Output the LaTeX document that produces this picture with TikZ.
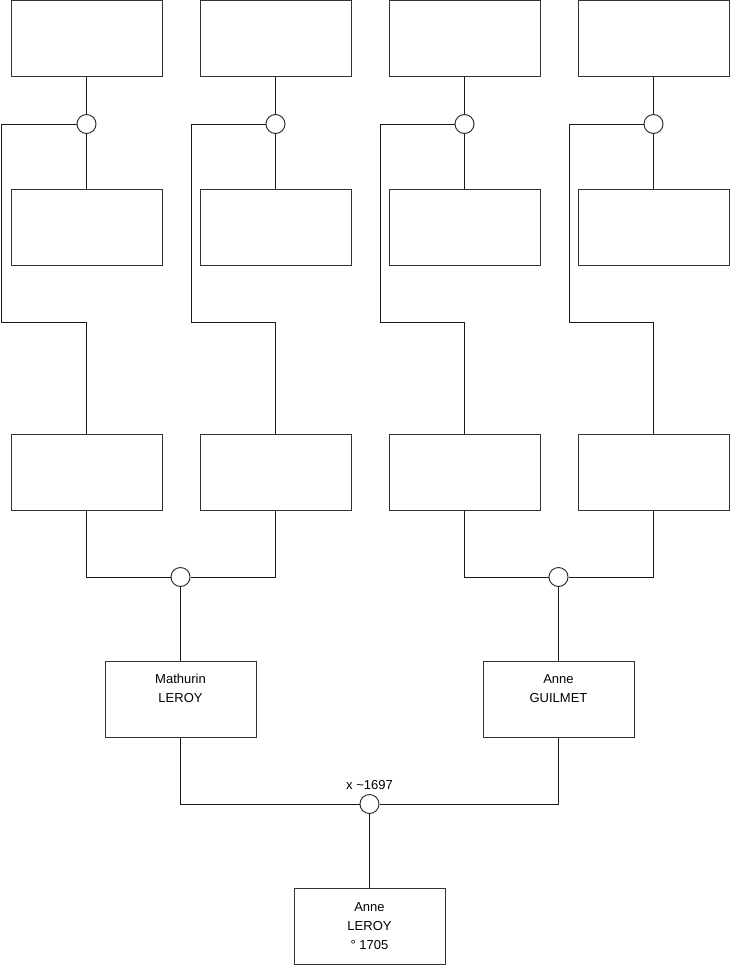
\documentclass[tikz,border=0pt]{standalone}
\usepackage{fontspec}
\setmainfont{Liberation Sans}
\begin{document}
\begin{tikzpicture}[x=1pt,y=-1pt,
  box/.style={draw=black!80, line width=1pt, minimum width=151pt, minimum height=76pt, inner sep=0pt, fill=white},
  knot/.style={circle, draw=black!80, line width=1pt, minimum size=19pt, inner sep=0pt, fill=white},
  link/.style={draw=black!90, line width=1pt},
  txt/.style={font=\fontsize{13}{19}\selectfont, align=center, inner sep=0pt, anchor=base}]
\useasboundingbox[fill=white] (0,0) rectangle (740,975);
% upper generations
\foreach \i/\x/\xl in {1/86.5/1, 2/275.5/191, 3/464.5/380, 4/653.5/569}{
  \node[box] (a\i) at (\x,38) {};
  \node[box] (b\i) at (\x,227) {};
  \node[box] (c\i) at (\x,472.5) {};
  \node[knot] (k\i) at (\x,124) {};
  \coordinate (e\i) at (\xl,322);
  \draw[link] (a\i.south) -- (k\i.north);
  \draw[link] (k\i.south) -- (b\i.north);
  \draw[link] (k\i.west) -| (e\i) -| (c\i.north);
}
% parents
\node[box] (p1) at (180.5,699.5) {};
\node[box] (p2) at (558.5,699.5) {};
\node[knot] (k5) at (180.5,577) {};
\node[knot] (k6) at (558.5,577) {};
\draw[link] (c1.south) |- (k5.west);
\draw[link] (c2.south) |- (k5.east);
\draw[link] (c3.south) |- (k6.west);
\draw[link] (c4.south) |- (k6.east);
\draw[link] (k5.south) -- (p1.north);
\draw[link] (k6.south) -- (p2.north);
\node[txt] (t1) at (180.5,702) {Mathurin\\LEROY};
\node[txt] (t2) at (558.5,702) {Anne\\GUILMET};
% child
\node[box] (ch) at (369.5,926) {};
\node[knot] (k7) at (369.5,804) {};
\draw[link] (p1.south) |- (k7.west);
\draw[link] (p2.south) |- (k7.east);
\draw[link] (k7.south) -- (ch.north);
\node[txt] (lab) at (369.5,789) {x \textasciitilde1697};
\node[txt] (t3) at (369.5,949.5) {Anne\\LEROY\\° 1705};
\end{tikzpicture}
\end{document}
